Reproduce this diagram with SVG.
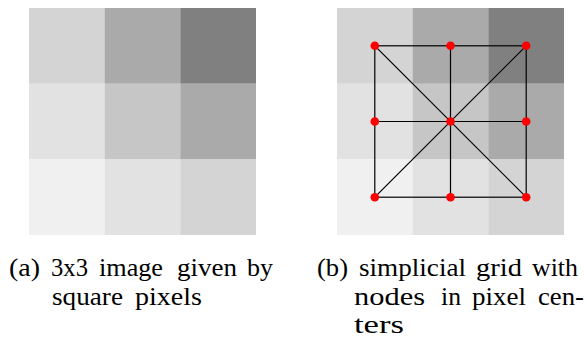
<svg xmlns="http://www.w3.org/2000/svg" width="586" height="338" viewBox="0 0 586 338">
  <style>
    .cap { font-family: "Liberation Serif", "DejaVu Serif", serif; font-size: 26px; fill: #000; }
    .edge { stroke: #000; stroke-width: 1.2; fill: none; }
    .node { fill: #ff0000; }
    .p1 { fill: #d4d4d4; } .p2 { fill: #aaaaaa; } .p3 { fill: #808080; }
    .p4 { fill: #e2e2e2; } .p5 { fill: #c6c6c6; } .p6 { fill: #f0f0f0; }
  </style>
  <defs>
    <!-- 3x3 block of square pixels, 75.67 px each -->
    <g id="pixels">
      <rect class="p1" x="0" y="0" width="75.8" height="75.8"/>
      <rect class="p2" x="75.67" y="0" width="75.8" height="75.8"/>
      <rect class="p3" x="151.33" y="0" width="75.67" height="75.8"/>
      <rect class="p4" x="0" y="75.67" width="75.8" height="75.8"/>
      <rect class="p5" x="75.67" y="75.67" width="75.8" height="75.8"/>
      <rect class="p2" x="151.33" y="75.67" width="75.67" height="75.8"/>
      <rect class="p6" x="0" y="151.33" width="75.8" height="75.67"/>
      <rect class="p4" x="75.67" y="151.33" width="75.8" height="75.67"/>
      <rect class="p1" x="151.33" y="151.33" width="75.67" height="75.67"/>
    </g>
  </defs>

  <!-- (a) the image -->
  <g id="image-a">
    <use href="#pixels" x="29" y="8"/>
  </g>

  <!-- (b) the image with its simplicial grid -->
  <g id="image-b">
    <use href="#pixels" x="337" y="8"/>
  </g>

  <g id="connectors">
    <rect class="edge" x="374.8" y="45.8" width="151.4" height="151.4"/>
    <line class="edge" x1="450.5" y1="45.8" x2="450.5" y2="197.2"/>
    <line class="edge" x1="374.8" y1="121.5" x2="526.2" y2="121.5"/>
    <line class="edge" x1="374.8" y1="45.8" x2="526.2" y2="197.2"/>
    <line class="edge" x1="526.2" y1="45.8" x2="374.8" y2="197.2"/>
  </g>

  <g id="nodes">
    <circle id="n11" class="node" cx="374.8" cy="45.8" r="4.3"/>
    <circle id="n12" class="node" cx="450.5" cy="45.8" r="4.3"/>
    <circle id="n13" class="node" cx="526.2" cy="45.8" r="4.3"/>
    <circle id="n21" class="node" cx="374.8" cy="121.5" r="4.3"/>
    <circle id="n22" class="node" cx="450.5" cy="121.5" r="4.3"/>
    <circle id="n23" class="node" cx="526.2" cy="121.5" r="4.3"/>
    <circle id="n31" class="node" cx="374.8" cy="197.2" r="4.3"/>
    <circle id="n32" class="node" cx="450.5" cy="197.2" r="4.3"/>
    <circle id="n33" class="node" cx="526.2" cy="197.2" r="4.3"/>
  </g>

  <!-- captions, justified word by word -->
  <g id="caption-a" class="cap">
    <text x="9" y="276" textLength="31" lengthAdjust="spacingAndGlyphs">(a)</text>
    <text x="51" y="276" textLength="37" lengthAdjust="spacingAndGlyphs">3x3</text>
    <text x="99" y="276" textLength="64" lengthAdjust="spacingAndGlyphs">image</text>
    <text x="177" y="276" textLength="60" lengthAdjust="spacingAndGlyphs">given</text>
    <text x="247" y="276" textLength="26" lengthAdjust="spacingAndGlyphs">by</text>
    <text x="52" y="305" textLength="71" lengthAdjust="spacingAndGlyphs">square</text>
    <text x="135" y="305" textLength="67" lengthAdjust="spacingAndGlyphs">pixels</text>
  </g>
  <g id="caption-b" class="cap">
    <text x="317" y="276" textLength="31" lengthAdjust="spacingAndGlyphs">(b)</text>
    <text x="359" y="276" textLength="107" lengthAdjust="spacingAndGlyphs">simplicial</text>
    <text x="476" y="276" textLength="46" lengthAdjust="spacingAndGlyphs">grid</text>
    <text x="532" y="276" textLength="46" lengthAdjust="spacingAndGlyphs">with</text>
    <text x="354" y="305" textLength="71" lengthAdjust="spacingAndGlyphs">nodes</text>
    <text x="441" y="305" textLength="20" lengthAdjust="spacingAndGlyphs">in</text>
    <text x="472" y="305" textLength="54" lengthAdjust="spacingAndGlyphs">pixel</text>
    <text x="538" y="305" textLength="46" lengthAdjust="spacingAndGlyphs">cen-</text>
    <text x="354" y="333" textLength="50" lengthAdjust="spacingAndGlyphs">ters</text>
  </g>
</svg>
